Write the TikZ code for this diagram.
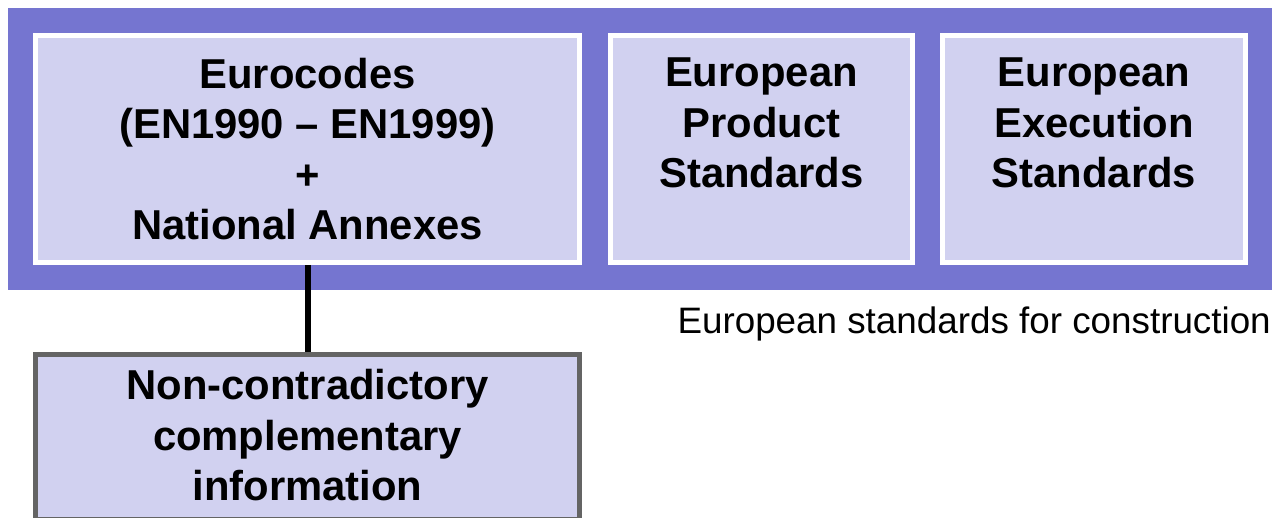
\documentclass[tikz,border=0pt]{standalone}
\usepackage{fontspec}
\setmainfont{Liberation Sans}
\usetikzlibrary{positioning}
\definecolor{bandblue}{RGB}{117,117,208}
\definecolor{boxlilac}{RGB}{209,209,240}
\definecolor{edgegray}{RGB}{100,100,100}
\tikzset{
  stdbox/.style={rectangle, draw=white, line width=5pt, fill=boxlilac, inner sep=0pt},
  boxlabel/.style={align=center, inner sep=0pt, font=\fontsize{41.8}{50.5}\selectfont\bfseries},
}

\begin{document}
\begin{tikzpicture}[x=1pt,y=-1pt]
\useasboundingbox (0,0) rectangle (1278,518);
\fill[bandblue] (8,8) rectangle (1272,290);
\node[stdbox, minimum width=544, minimum height=227] (euro) at (307.5,149) {};
\node[stdbox, minimum width=302, minimum height=227] (product) at (761.5,149) {};
\node[stdbox, minimum width=303, minimum height=227] (execution) at (1094,149) {};
% lower box runs off the page edge
\begin{scope}
\clip (0,0) rectangle (1278,518);
\node[stdbox, draw=edgegray, minimum width=544, minimum height=165] (extra) at (307.5,437) {};
\end{scope}
\draw[line width=6pt] (euro.south) -- (extra.north);
\node[boxlabel, anchor=north] (eurotxt) at ([yshift=-25pt]euro.north) {Eurocodes\\(EN1990 -- EN1999)\\+\\National Annexes};
\node[boxlabel, anchor=north] (producttxt) at ([yshift=-25pt]product.north) {European\\Product\\Standards};
\node[boxlabel, anchor=north] (executiontxt) at ([yshift=-25pt]execution.north) {European\\Execution\\Standards};
\node[boxlabel, anchor=north] (extratxt) at ([yshift=-17.5pt]extra.north) {Non-contradictory\\complementary\\information};
\node[anchor=base east, inner sep=0pt, font=\fontsize{36.8}{44}\selectfont] (caption) at (1271,334) {European standards for construction};
\end{tikzpicture}
\end{document}
